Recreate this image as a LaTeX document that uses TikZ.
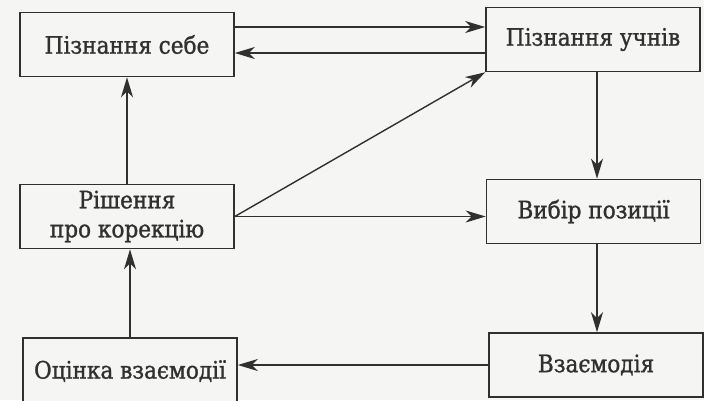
\documentclass[tikz,border=0pt]{standalone}
\usepackage{fontspec}
\setmainfont{DejaVu Serif Condensed}[FakeBold=1.2]
\usetikzlibrary{arrows.meta,calc}
\definecolor{ink}{HTML}{303030}
\definecolor{paper}{HTML}{F5F5F3}
\tikzset{
  box/.style={draw=ink, line width=1.6pt, fill=paper, text=ink,
    minimum width=214pt, minimum height=64pt, inner sep=0pt,
    align=center, font=\fontsize{24}{29}\selectfont},
  arr/.style={draw=ink, line width=1.4pt,
    -{Stealth[length=20pt, width=12pt, inset=6pt]}}
}
\begin{document}
\begin{tikzpicture}[x=1pt, y=-1pt]
  \fill[paper] (0,0) rectangle (704,400);
  \useasboundingbox (0,0) rectangle (704,400);

  \node[box] (self)     at (127,44.5)  {Пізнання себе};
  \node[box] (pupils)   at (593,39.5)  {Пізнання учнів};
  \node[box] (decision) at (127,216.5) {Рішення\\про корекцію};
  \node[box] (choice)   at (593.5,211.5) {Вибір позиції};
  \node[box] (interact) at (596,365)   {Взаємодія};
  \node[box, minimum height=66pt] (evaluate) at (130,371) {Оцінка взаємодії};

  % top pair: self <-> pupils
  \coordinate (s1) at ([yshift=17.5pt]self.east);
  \coordinate (s2) at ([yshift=-8.5pt]self.east);
  \draw[arr] (s1) -- (s1 -| pupils.west);
  \draw[arr] (s2 -| pupils.west) -- (s2);

  % left column
  \draw[arr] (decision.north) -- (self.south);
  \draw[arr] (evaluate.north) -- (evaluate.north |- decision.south);

  % from the decision box to the right column
  \draw[arr] (decision.east) -- (pupils.south west);
  \draw[arr] (decision.east) -- (decision.east -| choice.west);

  % right column
  \draw[arr] ([xshift=4pt]pupils.south) -- ([xshift=4pt]pupils.south |- choice.north);
  \draw[arr] ([xshift=3.5pt]choice.south) -- ([xshift=3.5pt]choice.south |- interact.north);

  % bottom row
  \draw[arr] (interact.west) -- (interact.west -| evaluate.east);
\end{tikzpicture}
\end{document}
